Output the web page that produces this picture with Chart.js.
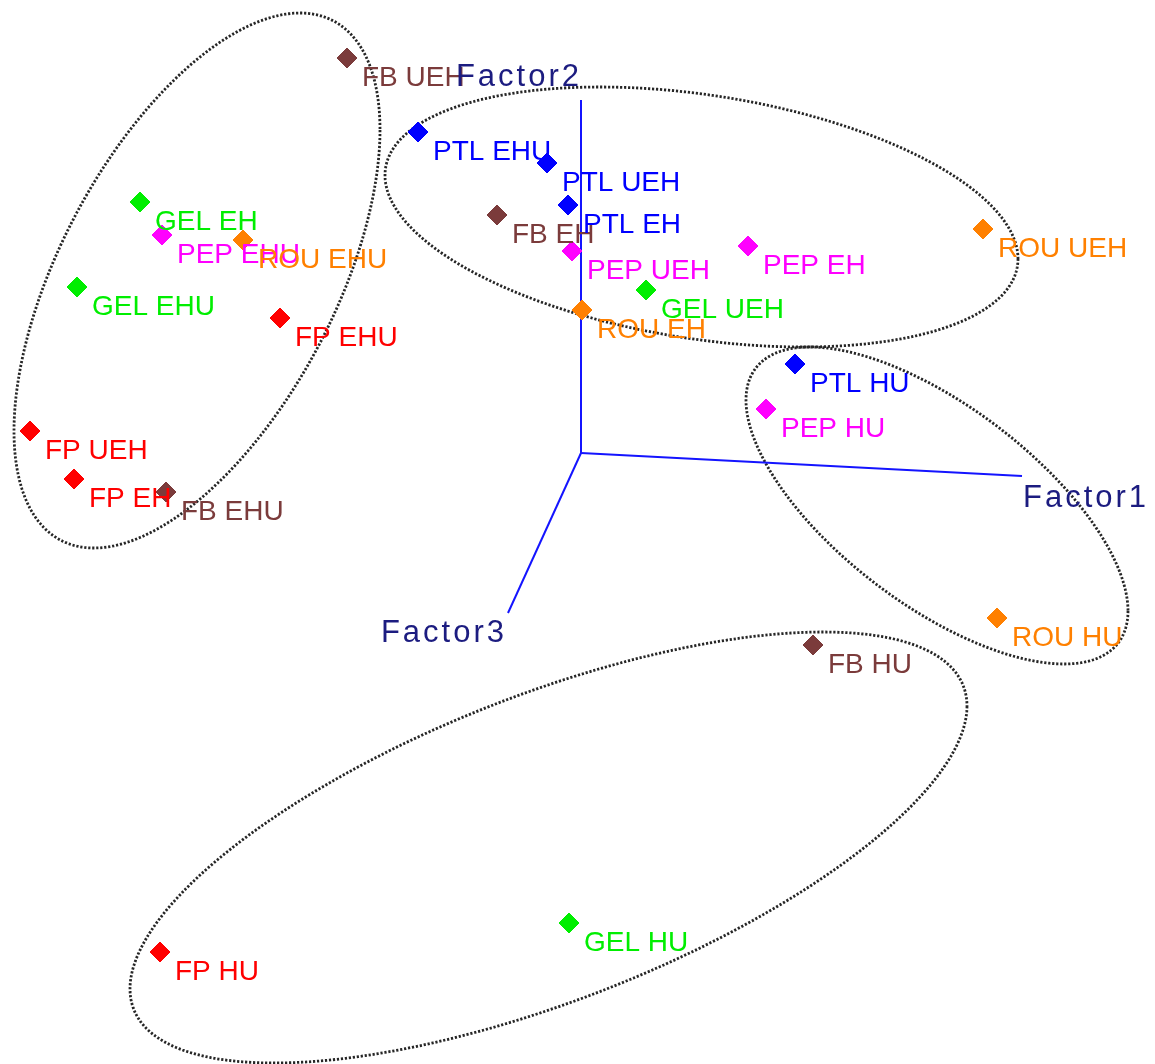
<!DOCTYPE html>
<html>
<head>
<meta charset="utf-8">
<script src="https://cdn.jsdelivr.net/npm/chart.js@4/dist/chart.umd.min.js"></script>
<style>
  html, body { margin: 0; padding: 0; background: #fff; }
  #wrap { width: 1155px; height: 1064px; }
</style>
</head>
<body>
<div id="wrap"><canvas id="chart" width="1155" height="1064"></canvas></div>
<script>
// treatments (label suffix), same order in every species array
const treatments = ['EH', 'EHU', 'UEH', 'HU'];
const species = ['FB', 'PTL', 'GEL', 'PEP', 'ROU', 'FP'];
const speciesColors = ['#7b3b3b', '#0000ff', '#00ee00', '#ff00ff', '#ff8000', '#ff0000'];

// projected position of each sample on the 3D factor plot
const fbX  = [497, 166, 347, 813];  const fbY  = [215, 492, 58, 645];
const ptlX = [568, 418, 547, 795];  const ptlY = [205, 132, 163, 364];
const gelX = [140, 77, 646, 569];   const gelY = [202, 287, 290, 923];
const pepX = [748, 162, 572, 766];  const pepY = [246, 235, 251, 409];
const rouX = [582, 243, 983, 997];  const rouY = [310, 240, 229, 618];
const fpX  = [74, 280, 30, 160];    const fpY  = [479, 318, 431, 952];

// factor axes: common origin and end of each axis
const factorNames = ['Factor1', 'Factor2', 'Factor3'];
const originX = 581, originY = 453;
const factorEndX = [1022, 581, 508];
const factorEndY = [476, 100, 613];

// grouping ellipses: centre, half extents, x of the topmost point (gives the tilt)
const groupCx   = [197, 701.5, 937, 548.5];
const groupCy   = [280.5, 217, 505.5, 847.5];
const groupHalfW = [183, 316.5, 191, 418.5];
const groupHalfH = [267.5, 130, 158.5, 215.5];
const groupTopX = [300, 600, 810, 823];

const speciesX = [fbX, ptlX, gelX, pepX, rouX, fpX];
const speciesY = [fbY, ptlY, gelY, pepY, rouY, fpY];

const FONT = "'Liberation Sans', Arial, sans-serif";

// === خطوط المحاور ===
const axisSets = factorNames.map((name, i) => ({
  type: 'scatter',
  label: name,
  data: [{ x: originX, y: originY }, { x: factorEndX[i], y: factorEndY[i] }],
  showLine: true,
  pointRadius: 0,
  borderColor: '#1414ff',
  borderWidth: 2,
  order: 2
}));

// === النقاط ===
const pointSets = species.map((sp, i) => ({
  type: 'scatter',
  label: sp,
  isSample: true,
  data: treatments.map((t, j) => ({ x: speciesX[i][j], y: speciesY[i][j], name: sp + ' ' + t })),
  pointStyle: 'rectRot',
  pointRadius: 10,
  backgroundColor: speciesColors[i],
  borderColor: speciesColors[i],
  borderWidth: 1,
  order: 1
}));

const ellipsePlugin = {
  id: 'groups',
  beforeDatasetsDraw(chart) {
    const { ctx, scales } = chart;
    ctx.save();
    ctx.strokeStyle = '#262626';
    ctx.lineWidth = 2.8;
    ctx.setLineDash([2.2, 1.8]);
    groupCx.forEach((cx, g) => {
      const cy = groupCy[g], hw = groupHalfW[g], hh = groupHalfH[g];
      const sxy = -(groupTopX[g] - cx) * hh;
      const l21 = sxy / hw;
      const l22 = Math.sqrt(hh * hh - l21 * l21);
      ctx.beginPath();
      for (let k = 0; k <= 360; k++) {
        const t = k * Math.PI / 180;
        const px = scales.x.getPixelForValue(cx + hw * Math.cos(t));
        const py = scales.y.getPixelForValue(cy + l21 * Math.cos(t) + l22 * Math.sin(t));
        if (k === 0) ctx.moveTo(px, py); else ctx.lineTo(px, py);
      }
      ctx.closePath();
      ctx.stroke();
    });
    ctx.restore();
  },
  afterDatasetsDraw(chart) {
    const { ctx, scales } = chart;
    ctx.save();
    // sample labels
    ctx.font = '28px ' + FONT;
    ctx.textBaseline = 'alphabetic';
    ctx.textAlign = 'left';
    chart.data.datasets.forEach((ds, i) => {
      if (!ds.isSample) return;
      const meta = chart.getDatasetMeta(i);
      ctx.fillStyle = ds.backgroundColor;
      meta.data.forEach((el, j) => {
        ctx.fillText(ds.data[j].name, el.x + 15, el.y + 28);
      });
    });
    // factor labels
    ctx.font = '31px ' + FONT;
    ctx.letterSpacing = '3px';
    ctx.fillStyle = '#1c1c80';
    const ex = i => scales.x.getPixelForValue(factorEndX[i]);
    const ey = i => scales.y.getPixelForValue(factorEndY[i]);
    ctx.textAlign = 'left';
    ctx.fillText(factorNames[0], ex(0) + 1, ey(0) + 31);
    ctx.textAlign = 'right';
    ctx.fillText(factorNames[1], ex(1) + 1, ey(1) - 14);
    ctx.fillText(factorNames[2], ex(2) - 1, ey(2) + 29);
    ctx.restore();
  }
};

const chart = new Chart(document.getElementById('chart'), {
  type: 'scatter',
  data: { datasets: [...axisSets, ...pointSets] },
  options: {
    responsive: false,
    animation: false,
    clip: false,
    layout: { padding: 0, autoPadding: false },
    plugins: { legend: { display: false }, tooltip: { enabled: false } },
    scales: {
      x: { type: 'linear', min: 0, max: 1155, display: false },
      y: { type: 'linear', min: 0, max: 1064, reverse: true, display: false }
    }
  },
  plugins: [ellipsePlugin]
});
</script>
</body>
</html>
